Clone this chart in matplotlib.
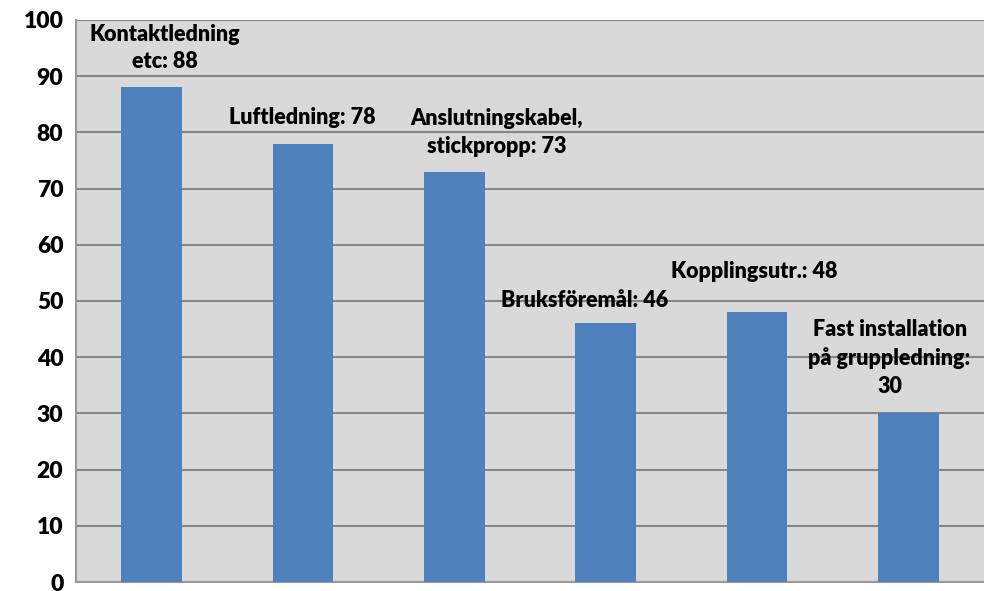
import numpy as np
import matplotlib
matplotlib.use("Agg")
import matplotlib.pyplot as plt

plt.rcParams['font.family'] = ['Lato', 'DejaVu Sans']
plt.rcParams['font.weight'] = 'bold'

# kategorier och värden
categories = ['Kontaktledning\netc', 'Luftledning', 'Anslutningskabel,\nstickpropp',
              'Bruksföremål', 'Kopplingsutr.', 'Fast installation\npå gruppledning:\n']
values = [88, 78, 73, 46, 48, 30]
yticks = [0, 10, 20, 30, 40, 50, 60, 70, 80, 90, 100]

# etikettplacering (x-förskjutning, y i dataenheter)
label_pos = [(0.088, 95.0), (0.993, 82.7), (2.28, 80.0),
             (2.86, 50.0), (3.985, 55.3), (4.876, 39.9)]

fig = plt.figure(figsize=(9.84, 5.91), dpi=100)
ax = fig.add_axes([0.0772, 0.0152, 0.9228, 0.9510])
ax.set_facecolor('#d9d9d9')

x = np.arange(len(values))
ax.bar(x, values, width=0.4, color='#4f81bd', zorder=3)

ax.set_xlim(-0.5, len(values) - 0.5)
ax.set_ylim(0, 100)
ax.set_yticks(yticks)
ax.set_yticklabels([str(t) for t in yticks], fontsize=16.5, fontweight='heavy')
ax.set_xticks([])
ax.tick_params(axis='y', length=0, pad=9)
ax.grid(axis='y', color='#868686', linewidth=1.5, zorder=1)

for s in ['top', 'right']:
    ax.spines[s].set_visible(False)
for s in ['left', 'bottom']:
    ax.spines[s].set_color('#9a9a9a')
    ax.spines[s].set_linewidth(1.5)

for i, (cat, v) in enumerate(zip(categories, values)):
    if cat.endswith('\n'):
        txt = cat + str(v)
    else:
        txt = f'{cat}: {v}'
    lx, ly = label_pos[i]
    ax.text(lx, ly, txt, ha='center', va='center', fontsize=15.5,
            fontweight='heavy', linespacing=1.4, zorder=4)

fig.savefig('out.png', dpi=100)
